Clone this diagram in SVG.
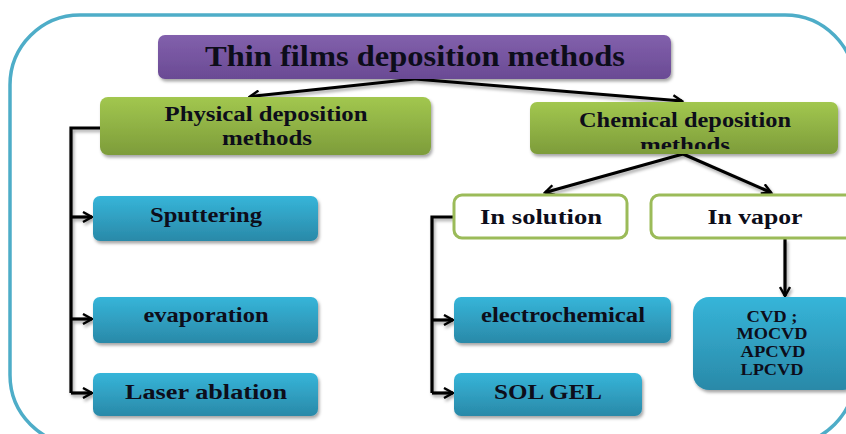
<svg xmlns="http://www.w3.org/2000/svg" width="846" height="434" viewBox="0 0 846 434">
<defs>
<style>
.t{font-family:"Liberation Serif","DejaVu Serif",serif;font-weight:bold;fill:#0d0d1a;text-anchor:middle}
.c{fill:none;stroke:#000;stroke-width:3.2;stroke-linejoin:miter}
</style>
<linearGradient id="gp" x1="0" y1="0" x2="0" y2="1"><stop offset="0" stop-color="#8260ac"/><stop offset="1" stop-color="#6a4a94"/></linearGradient>
<linearGradient id="gg" x1="0" y1="0" x2="0" y2="1"><stop offset="0" stop-color="#a2c74f"/><stop offset="1" stop-color="#7d9c3a"/></linearGradient>
<linearGradient id="gb" x1="0" y1="0" x2="0" y2="1"><stop offset="0" stop-color="#36b5d9"/><stop offset="1" stop-color="#2a89a8"/></linearGradient>
<filter id="sh" x="-10%" y="-10%" width="120%" height="130%"><feDropShadow dx="1.5" dy="2.5" stdDeviation="1.5" flood-color="#000" flood-opacity="0.35"/></filter>
<marker id="ar" viewBox="0 0 12 12" refX="10" refY="6" markerWidth="12" markerHeight="12" markerUnits="userSpaceOnUse" orient="auto">
<path d="M1,1 L10,6 L1,11" fill="none" stroke="#000" stroke-width="2.4"/>
</marker>
<clipPath id="cc"><rect x="530" y="102" width="308" height="47"/></clipPath>
</defs>
<rect x="0" y="0" width="846" height="434" fill="#fff"/>
<rect x="10" y="15" width="845" height="430" rx="70" fill="none" stroke="#4eadc8" stroke-width="3.5"/>

<g id="connectors" filter="url(#sh)">
<path class="c" d="M415,79 L250,96.5" marker-end="url(#ar)"/>
<path class="c" d="M415,79 L682,101" marker-end="url(#ar)"/>
<path class="c" d="M100,128 L71,128 L71,393"/>
<path class="c" d="M71,217 L92,217" marker-end="url(#ar)"/>
<path class="c" d="M71,319 L92,319" marker-end="url(#ar)"/>
<path class="c" d="M71,393 L92,393" marker-end="url(#ar)"/>
<path class="c" d="M683,154 L545,192.5" marker-end="url(#ar)"/>
<path class="c" d="M683,154 L771,192.5" marker-end="url(#ar)"/>
<path class="c" d="M453,217 L432,217 L432,393"/>
<path class="c" d="M432,320 L453,320" marker-end="url(#ar)"/>
<path class="c" d="M432,393 L453,393" marker-end="url(#ar)"/>
<path class="c" d="M785,239 L785,296" marker-end="url(#ar)"/>
</g>

<g id="title">
<rect x="158" y="35" width="513" height="44" rx="7" fill="url(#gp)" filter="url(#sh)"/>
<text class="t" x="415" y="66" font-size="29" textLength="420" lengthAdjust="spacingAndGlyphs">Thin films deposition  methods</text>
</g>
<g id="physical">
<rect x="100" y="97" width="331" height="58" rx="8" fill="url(#gg)" filter="url(#sh)"/>
<text class="t" x="266" y="121" font-size="20" textLength="203" lengthAdjust="spacingAndGlyphs">Physical deposition</text>
<text class="t" x="267" y="145" font-size="20" textLength="90" lengthAdjust="spacingAndGlyphs">methods</text>
</g>
<g id="chemical">
<rect x="530" y="102" width="308" height="52" rx="7" fill="url(#gg)" filter="url(#sh)"/>
<g clip-path="url(#cc)">
<text class="t" x="685" y="127" font-size="20" textLength="212" lengthAdjust="spacingAndGlyphs">Chemical deposition</text>
<text class="t" x="685" y="152" font-size="20" textLength="90" lengthAdjust="spacingAndGlyphs">methods</text>
</g>
</g>
<g id="sputtering">
<rect x="93" y="196" width="225" height="45" rx="7" fill="url(#gb)" filter="url(#sh)"/>
<text class="t" x="206" y="222" font-size="20" textLength="112" lengthAdjust="spacingAndGlyphs">Sputtering</text>
</g>
<g id="evaporation">
<rect x="93" y="297" width="225" height="46" rx="7" fill="url(#gb)" filter="url(#sh)"/>
<text class="t" x="206" y="322" font-size="20" textLength="125" lengthAdjust="spacingAndGlyphs">evaporation</text>
</g>
<g id="laser">
<rect x="93" y="373" width="225" height="43" rx="7" fill="url(#gb)" filter="url(#sh)"/>
<text class="t" x="206" y="399" font-size="20" textLength="162" lengthAdjust="spacingAndGlyphs">Laser ablation</text>
</g>
<g id="insolution">
<rect x="454" y="195" width="173" height="43" rx="8" fill="#fff" stroke="#9bbb59" stroke-width="3"/>
<text class="t" x="541" y="224" font-size="20" textLength="122" lengthAdjust="spacingAndGlyphs">In solution</text>
</g>
<g id="invapor">
<rect x="651" y="195" width="210" height="43" rx="8" fill="#fff" stroke="#9bbb59" stroke-width="3"/>
<text class="t" x="755" y="224" font-size="20" textLength="95" lengthAdjust="spacingAndGlyphs">In vapor</text>
</g>
<g id="electrochemical">
<rect x="454" y="297" width="217" height="46" rx="7" fill="url(#gb)" filter="url(#sh)"/>
<text class="t" x="563" y="322" font-size="20" textLength="164" lengthAdjust="spacingAndGlyphs">electrochemical</text>
</g>
<g id="solgel">
<rect x="454" y="373" width="188" height="43" rx="7" fill="url(#gb)" filter="url(#sh)"/>
<text class="t" x="548" y="399" font-size="20" textLength="108" lengthAdjust="spacingAndGlyphs">SOL GEL</text>
</g>
<g id="cvd">
<rect x="693" y="297" width="166" height="93" rx="16" fill="url(#gb)" filter="url(#sh)"/>
<text class="t" x="772" y="322" font-size="16" textLength="51" lengthAdjust="spacingAndGlyphs">CVD ;</text>
<text class="t" x="772" y="339" font-size="16" textLength="71" lengthAdjust="spacingAndGlyphs">MOCVD</text>
<text class="t" x="773" y="357" font-size="16" textLength="65" lengthAdjust="spacingAndGlyphs">APCVD</text>
<text class="t" x="772" y="375" font-size="16" textLength="63" lengthAdjust="spacingAndGlyphs">LPCVD</text>
</g>
</svg>
